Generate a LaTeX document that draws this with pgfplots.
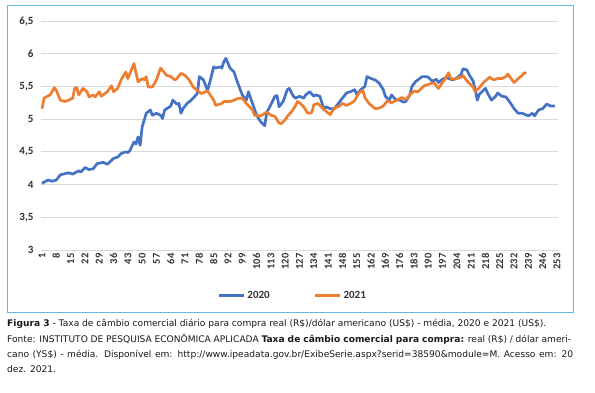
\documentclass[border=0pt]{standalone}
\usepackage{pgfplots}
\pgfplotsset{compat=1.18}
\usepackage{fontspec}
\setmainfont{DejaVu Sans}
\newfontfamily\chartfont{Carlito}
\definecolor{s2020}{RGB}{68,114,196}
\definecolor{s2021}{RGB}{237,125,49}
\definecolor{gridc}{RGB}{217,217,217}
\definecolor{framec}{RGB}{100,185,230}
\definecolor{tickc}{RGB}{50,50,50}
\begin{document}
\begin{tikzpicture}
\useasboundingbox (0,0) rectangle (595pt,392pt);
\draw[framec, line width=1pt] (7pt,80pt) rectangle (573pt,386pt);
\begin{axis}[
  at={(41pt,142pt)}, anchor=south west, scale only axis,
  width=517pt, height=229pt,
  xmin=0.5, xmax=253.5, ymin=3, ymax=6.5,
  axis line style={draw=none},
  major tick length=0pt,
  xtick={1,8,...,253},
  ytick={3,3.5,4,4.5,5,5.5,6,6.5},
  yticklabels={3,{3,5},4,{4,5},5,{5,5},6,{6,5}},
  ymajorgrids, grid style={gridc, line width=0.8pt},
  /pgf/number format/assume math mode=true,
  x tick label style={rotate=90, anchor=east, font=\chartfont\bfseries\fontsize{10.5}{12}\selectfont, text=tickc},
  y tick label style={font=\chartfont\bfseries\fontsize{11}{12}\selectfont, text=tickc, xshift=-4pt},
  legend columns=2,
  legend style={at={(0.487,-0.2)}, anchor=center, draw=none, fill=none,
    font=\chartfont\bfseries\fontsize{11}{12}\selectfont, text=tickc,
    /tikz/every even column/.append style={column sep=42pt}},
  legend image code/.code={\draw[#1, line width=2.8pt] (0pt,0pt) -- (25pt,0pt);},
  every axis plot/.append style={line width=2.7pt, line join=round, mark=none},
]
\addplot[s2020] coordinates {
(1,4.02) (4,4.07) (6,4.05) (8,4.07) (10,4.15) (14,4.18) (16,4.16) (19,4.21) (20,4.19)
(22,4.26) (24,4.23) (26,4.24) (28,4.32) (31,4.34) (33,4.31) (35,4.37) (36,4.40) (38,4.42)
(40,4.48) (42,4.50) (43,4.49) (44,4.52) (46,4.65) (47,4.62) (48,4.73) (49,4.60) (50,4.88)
(52,5.09) (54,5.14) (55,5.06) (57,5.09) (59,5.06) (60,5.01) (61,5.14) (64,5.20) (65,5.29)
(67,5.23) (68,5.24) (69,5.09) (70,5.16) (72,5.24) (74,5.29) (77,5.39) (78,5.65) (80,5.60)
(82,5.44) (83,5.55) (85,5.80) (86,5.78) (88,5.80) (89,5.78) (90,5.88) (91,5.93) (93,5.78)
(95,5.72) (96,5.62) (98,5.45) (99,5.37) (101,5.29) (102,5.42) (104,5.24) (106,5.06) (108,4.96)
(110,4.90) (111,5.11) (112,5.16) (115,5.35) (116,5.36) (117,5.19) (119,5.27) (121,5.45) (122,5.47)
(124,5.35) (125,5.32) (127,5.35) (129,5.32) (130,5.37) (132,5.42) (134,5.35) (135,5.37) (137,5.35)
(139,5.14) (140,5.19) (142,5.16) (144,5.16) (146,5.24) (148,5.32) (150,5.40) (152,5.42) (154,5.45)
(155,5.38) (157,5.45) (159,5.50) (160,5.65) (162,5.62) (164,5.60) (166,5.55) (168,5.45) (169,5.35)
(171,5.29) (172,5.37) (174,5.30) (176,5.29) (178,5.26) (179,5.27) (181,5.37) (182,5.50) (184,5.58)
(185,5.60) (187,5.65) (189,5.65) (190,5.64) (192,5.58) (194,5.61) (195,5.56) (197,5.61) (199,5.64)
(200,5.62) (202,5.60) (204,5.63) (206,5.68) (207,5.77) (209,5.75) (210,5.68) (212,5.58) (213,5.45)
(214,5.29) (215,5.38) (217,5.44) (218,5.47) (219,5.40) (221,5.29) (223,5.35) (224,5.40) (226,5.35)
(228,5.34) (229,5.30) (231,5.21) (232,5.16) (234,5.09) (236,5.09) (239,5.05) (241,5.09) (242,5.05)
(244,5.14) (246,5.16) (248,5.23) (250,5.20) (252,5.20)
};
\addlegendentry{2020}
\addplot[s2021] coordinates {
(1,5.16) (2,5.32) (3,5.34) (5,5.37) (7,5.48) (8,5.44) (10,5.29) (12,5.27) (14,5.29) (16,5.32)
(17,5.47) (18,5.48) (19,5.37) (21,5.47) (23,5.42) (24,5.34) (26,5.37) (27,5.34) (29,5.42) (30,5.35)
(33,5.42) (35,5.51) (36,5.42) (38,5.47) (40,5.62) (42,5.72) (43,5.62) (46,5.85) (48,5.57) (50,5.62)
(51,5.60) (52,5.65) (53,5.49) (55,5.49) (57,5.60) (59,5.78) (62,5.67) (64,5.65) (66,5.60) (67,5.62)
(69,5.70) (71,5.67) (73,5.60) (75,5.49) (77,5.44) (79,5.39) (81,5.42) (82,5.43) (85,5.29) (86,5.21)
(89,5.24) (90,5.27) (93,5.27) (95,5.29) (97,5.32) (99,5.32) (101,5.24) (104,5.14) (105,5.06) (108,5.05)
(110,5.09) (111,5.11) (113,5.06) (115,5.04) (117,4.94) (118,4.93) (120,4.99) (121,5.04) (123,5.11)
(125,5.20) (126,5.27) (127,5.25) (129,5.19) (131,5.09) (133,5.10) (134,5.22) (136,5.24) (138,5.18)
(140,5.12) (142,5.07) (144,5.17) (146,5.19) (148,5.24) (150,5.21) (152,5.24) (154,5.28) (156,5.40)
(158,5.44) (159,5.33) (161,5.24) (164,5.16) (166,5.17) (168,5.20) (170,5.28) (172,5.25) (174,5.28)
(177,5.33) (179,5.30) (181,5.37) (183,5.43) (185,5.42) (186,5.45) (188,5.51) (190,5.53) (192,5.55)
(193,5.55) (195,5.47) (197,5.56) (198,5.60) (200,5.71) (201,5.62) (203,5.61) (206,5.64) (207,5.67)
(208,5.62) (210,5.55) (212,5.49) (213,5.42) (215,5.48) (217,5.56) (220,5.64) (222,5.60) (224,5.62)
(226,5.62) (228,5.65) (229,5.69) (231,5.60) (232,5.56) (234,5.62) (236,5.67) (237,5.71) (238,5.70)
};
\addlegendentry{2021}
\end{axis}
\begin{scope}[every node/.style={anchor=base west, inner sep=0pt, font=\fontsize{9.1}{11}\selectfont, text=black!90}]
\node at (7pt,66pt) {\textbf{Figura 3} - Taxa de câmbio comercial diário para compra real (R\$)/dólar americano (US\$) - média, 2020 e 2021 (US\$).};
\node at (7pt,50pt) {\makebox[564pt][s]{Fonte: INSTITUTO DE PESQUISA ECONÔMICA APLICADA \textbf{Taxa de câmbio comercial para compra:} real (R\$) / dólar ameri-}};
\node at (7pt,34.3pt) {\makebox[566pt][s]{cano (YS\$) - média. Disponível em: http://www.ipeadata.gov.br/ExibeSerie.aspx?serid=38590\&module=M. Acesso em: 20}};
\node at (7pt,19.3pt) {dez. 2021.};
\end{scope}
\end{tikzpicture}
\end{document}
